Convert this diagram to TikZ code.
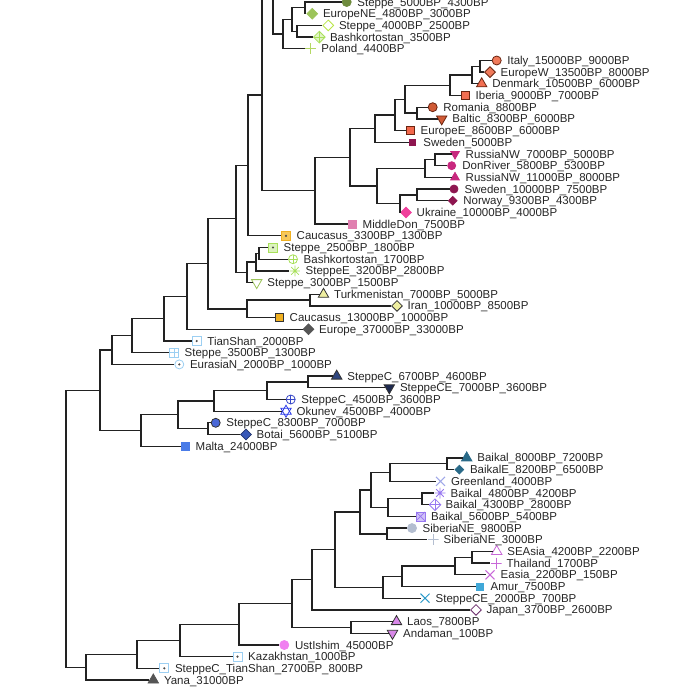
\documentclass[tikz,border=0pt]{standalone}
\usepackage{fontspec}
\setmainfont{Liberation Sans}
\usetikzlibrary{shapes.geometric,shapes.misc}

\definecolor{branch}{HTML}{222222}
\definecolor{olv}{HTML}{6E8B3D}
\definecolor{ygr}{HTML}{9CC45A}
\definecolor{lgr}{HTML}{A8E05A}
\definecolor{lgrB}{HTML}{B4D864}
\definecolor{coral}{HTML}{F07A5A}
\definecolor{rust}{HTML}{D05A35}
\definecolor{edk}{HTML}{6A2410}
\definecolor{dmag}{HTML}{8E1650}
\definecolor{mag}{HTML}{C8287E}
\definecolor{pinkA}{HTML}{F0409C}
\definecolor{pinkB}{HTML}{E080B0}
\definecolor{gold}{HTML}{F0B020}
\definecolor{lorange}{HTML}{F8C858}
\definecolor{lyel}{HTML}{EEEEA0}
\definecolor{dgray}{HTML}{555555}
\definecolor{lblue}{HTML}{9CCFF2}
\definecolor{navy}{HTML}{2E4680}
\definecolor{navyB}{HTML}{1E2A50}
\definecolor{blueA}{HTML}{3848C8}
\definecolor{blueB}{HTML}{2838E8}
\definecolor{blueC}{HTML}{4A68D8}
\definecolor{blueD}{HTML}{3858B8}
\definecolor{blueE}{HTML}{4A7CE8}
\definecolor{teal}{HTML}{2A6A88}
\definecolor{lav}{HTML}{A0A8E8}
\definecolor{purp}{HTML}{9878F0}
\definecolor{sgray}{HTML}{B4BED0}
\definecolor{orch}{HTML}{C868D8}
\definecolor{sky}{HTML}{40A8D8}
\definecolor{cyanA}{HTML}{2898C8}
\definecolor{dpurp}{HTML}{6A2A6A}
\definecolor{orchB}{HTML}{D888E8}
\definecolor{viol}{HTML}{F080F0}

\tikzset{
  mk/.style={inner sep=0pt, line width=.8pt},
  fcirc/.style 2 args={mk, circle, minimum size=9pt, fill=#1, draw=#2},
  fdia/.style 2 args={mk, diamond, minimum size=11pt, fill=#1, draw=#2},
  odia/.style={mk, diamond, minimum size=11pt, fill=white, draw=#1},
  ftri/.style 2 args={mk, regular polygon, regular polygon sides=3, minimum size=12pt, fill=#1, draw=#2},
  ftrd/.style 2 args={ftri={#1}{#2}, shape border rotate=180},
  otri/.style={mk, regular polygon, regular polygon sides=3, minimum size=12pt, draw=#1},
  otrd/.style={otri=#1, shape border rotate=180},
  fsq/.style 2 args={mk, rectangle, minimum size=8pt, fill=#1, draw=#2},
  pluspic/.style={path picture={\draw[#1, line width=.9pt]
      (path picture bounding box.north) -- (path picture bounding box.south)
      (path picture bounding box.west) -- (path picture bounding box.east);}},
  xpic/.style={path picture={\draw[#1, line width=.8pt]
      (path picture bounding box.north west) -- (path picture bounding box.south east)
      (path picture bounding box.north east) -- (path picture bounding box.south west);}},
  astpic/.style={path picture={\draw[#1, line width=.8pt]
      (path picture bounding box.north) -- (path picture bounding box.south)
      (path picture bounding box.west) -- (path picture bounding box.east)
      (path picture bounding box.north west) -- (path picture bounding box.south east)
      (path picture bounding box.north east) -- (path picture bounding box.south west);}},
  dotpic/.style={path picture={\fill[#1] (path picture bounding box.center) circle (1.2pt);}},
  plusmk/.style={mk, rectangle, minimum size=11pt, pluspic=#1},
  xmk/.style={mk, cross out, minimum size=8pt, draw=#1, line width=1pt},
  ast/.style={mk, circle, minimum size=11pt, astpic=#1},
  cplus/.style={mk, circle, minimum size=9pt, draw=#1, fill=white, pluspic=#1},
  cdot/.style={mk, circle, minimum size=9pt, draw=#1, fill=white, dotpic=black!70},
  sqdot/.style 2 args={mk, rectangle, minimum size=9pt, draw=#1, fill=#2, dotpic=black!70},
  sqplus/.style={mk, rectangle, minimum size=9pt, draw=#1, fill=white, pluspic=#1},
  sqx/.style={mk, rectangle, minimum size=9pt, draw=#1, fill=#1!45, xpic=#1},
  dplus/.style 2 args={mk, diamond, minimum size=12pt, draw=#1, fill=#2, pluspic=#1},
  lab/.style={inner sep=0pt, anchor=base west, font=\fontsize{11.5}{13}\selectfont, text=black!85}
}

\begin{document}
\begin{tikzpicture}[x=1pt,y=-1pt]
  \useasboundingbox (0,0) rectangle (685,689);
  \clip (0,0) rectangle (685,689);

  % tips
  \node[fcirc={olv}{olv}]        (m1)  at (346.7,2.0)   {};
  \node[fdia={ygr}{ygr}]         (m2)  at (312.3,13.7)  {};
  \node[odia=lgr!80!yellow]      (m3)  at (328.3,25.4)  {};
  \node[dplus={lgr}{lgr!35}]     (m4)  at (319.3,37.1)  {};
  \node[plusmk=lgrB]             (m5)  at (310.7,48.8)  {};
  \node[fcirc={coral}{edk}]      (m6)  at (496.7,60.5)  {};
  \node[fdia={coral}{edk}]       (m7)  at (490.0,72.1)  {};
  \node[ftri={coral!90!red}{edk}] (m8) at (481.7,83.8)  {};
  \node[fsq={coral!90!red}{edk}] (m9)  at (465.0,95.5)  {};
  \node[fcirc={rust}{edk}]       (m10) at (432.7,107.2) {};
  \node[ftrd={rust}{edk}]        (m11) at (441.7,118.9) {};
  \node[fsq={coral!85!red}{edk}] (m12) at (410.0,130.6) {};
  \node[fsq={dmag}{dmag}, minimum size=6pt] (m13) at (412.7,142.3) {};
  \node[ftrd={mag}{mag}, minimum size=10pt] (m14) at (455.0,154.0) {};
  \node[fcirc={mag}{mag}, minimum size=8pt] (m15) at (451.7,165.7) {};
  \node[ftri={mag}{mag}, minimum size=10pt] (m16) at (455.0,177.4) {};
  \node[fcirc={dmag}{dmag}, minimum size=8pt] (m17) at (454.0,189.0) {};
  \node[fdia={dmag}{dmag}, minimum size=9pt] (m18) at (452.7,200.7) {};
  \node[fdia={pinkA}{pinkA}]     (m19) at (406.0,212.4) {};
  \node[fsq={pinkB}{pinkB}]      (m20) at (352.0,224.1) {};
  \node[sqdot={gold}{lorange}]   (m21) at (286.0,235.8) {};
  \node[sqdot={lgr}{lgr!40}]     (m22) at (273.0,247.5) {};
  \node[cplus=lgr]               (m23) at (293.0,259.2) {};
  \node[ast=lgr]                 (m24) at (295.0,270.9) {};
  \node[otrd=ygr]                (m25) at (256.7,282.6) {};
  \node[ftri={lyel}{black!80}]   (m26) at (323.5,294.3) {};
  \node[fdia={lyel}{black!80}]   (m27) at (397.0,305.9) {};
  \node[fsq={gold}{black!80}]    (m28) at (279.0,317.6) {};
  \node[fdia={dgray}{dgray}]     (m29) at (308.5,329.3) {};
  \node[sqdot={lblue}{white}]    (m30) at (196.7,341.0) {};
  \node[sqplus=lblue]            (m31) at (174.0,352.7) {};
  \node[cdot=lblue]              (m32) at (179.3,364.4) {};
  \node[ftri={navy}{black!80}]   (m33) at (336.7,376.1) {};
  \node[ftrd={navyB}{black!80}]  (m34) at (389.3,387.8) {};
  \node[cplus=blueA]             (m35) at (290.7,399.5) {};
  \node[otri=blueB]              (m36) at (286.0,411.2) {};
  \node[otrd=blueB]              (m36b) at (m36)        {};
  \node[fcirc={blueC}{black!80}] (m37) at (215.7,422.8) {};
  \node[fdia={blueD}{blueD!60!black}] (m38) at (246.0,434.5) {};
  \node[fsq={blueE}{blueE}]      (m39) at (185.0,446.2) {};
  \node[ftri={teal}{teal}]       (m40) at (466.7,457.9) {};
  \node[fdia={teal}{teal}, minimum size=9pt] (m41) at (459.3,469.6) {};
  \node[xmk=lav]                 (m42) at (440.5,481.3) {};
  \node[ast=purp]                (m43) at (440.0,493.0) {};
  \node[dplus={purp}{white}]     (m44) at (435.0,504.7) {};
  \node[sqx=purp]                (m45) at (420.5,516.4) {};
  \node[fcirc={sgray}{sgray}]    (m46) at (412.0,528.1) {};
  \node[plusmk=sgray]            (m47) at (433.0,539.7) {};
  \node[otri=orch]               (m48) at (496.7,551.4) {};
  \node[plusmk=orch]             (m49) at (496.0,563.1) {};
  \node[xmk=orch]                (m50) at (490.0,574.8) {};
  \node[fsq={sky}{sky}, minimum size=7pt] (m51) at (480.0,586.5) {};
  \node[xmk=cyanA]               (m52) at (425.0,598.2) {};
  \node[odia=dpurp]              (m53) at (476.0,609.9) {};
  \node[ftri={orchB}{black!80}]  (m54) at (396.5,621.6) {};
  \node[ftrd={orchB}{black!80}]  (m55) at (392.5,633.3) {};
  \node[fcirc={viol}{viol}]      (m56) at (284.3,645.0) {};
  \node[sqdot={lblue}{white}]    (m57) at (237.5,656.6) {};
  \node[sqdot={lblue}{white}]    (m58) at (164.3,668.3) {};
  \node[ftri={dgray}{dgray}]     (m59) at (153.3,680.0) {};

  % labels
  \begin{scope}[every node/.style={lab}]
    \node (l1)  at ([xshift=10.5pt,yshift=-4pt]m1)  {Steppe\_5000BP\_4300BP};
    \node (l2)  at ([xshift=10.5pt,yshift=-4pt]m2)  {EuropeNE\_4800BP\_3000BP};
    \node (l3)  at ([xshift=10.5pt,yshift=-4pt]m3)  {Steppe\_4000BP\_2500BP};
    \node (l4)  at ([xshift=10.5pt,yshift=-4pt]m4)  {Bashkortostan\_3500BP};
    \node (l5)  at ([xshift=10.5pt,yshift=-4pt]m5)  {Poland\_4400BP};
    \node (l6)  at ([xshift=10.5pt,yshift=-4pt]m6)  {Italy\_15000BP\_9000BP};
    \node (l7)  at ([xshift=10.5pt,yshift=-4pt]m7)  {EuropeW\_13500BP\_8000BP};
    \node (l8)  at ([xshift=10.5pt,yshift=-4pt]m8)  {Denmark\_10500BP\_6000BP};
    \node (l9)  at ([xshift=10.5pt,yshift=-4pt]m9)  {Iberia\_9000BP\_7000BP};
    \node (l10) at ([xshift=10.5pt,yshift=-4pt]m10) {Romania\_8800BP};
    \node (l11) at ([xshift=10.5pt,yshift=-4pt]m11) {Baltic\_8300BP\_6000BP};
    \node (l12) at ([xshift=10.5pt,yshift=-4pt]m12) {EuropeE\_8600BP\_6000BP};
    \node (l13) at ([xshift=10.5pt,yshift=-4pt]m13) {Sweden\_5000BP};
    \node (l14) at ([xshift=10.5pt,yshift=-4pt]m14) {RussiaNW\_7000BP\_5000BP};
    \node (l15) at ([xshift=10.5pt,yshift=-4pt]m15) {DonRiver\_5800BP\_5300BP};
    \node (l16) at ([xshift=10.5pt,yshift=-4pt]m16) {RussiaNW\_11000BP\_8000BP};
    \node (l17) at ([xshift=10.5pt,yshift=-4pt]m17) {Sweden\_10000BP\_7500BP};
    \node (l18) at ([xshift=10.5pt,yshift=-4pt]m18) {Norway\_9300BP\_4300BP};
    \node (l19) at ([xshift=10.5pt,yshift=-4pt]m19) {Ukraine\_10000BP\_4000BP};
    \node (l20) at ([xshift=10.5pt,yshift=-4pt]m20) {MiddleDon\_7500BP};
    \node (l21) at ([xshift=10.5pt,yshift=-4pt]m21) {Caucasus\_3300BP\_1300BP};
    \node (l22) at ([xshift=10.5pt,yshift=-4pt]m22) {Steppe\_2500BP\_1800BP};
    \node (l23) at ([xshift=10.5pt,yshift=-4pt]m23) {Bashkortostan\_1700BP};
    \node (l24) at ([xshift=10.5pt,yshift=-4pt]m24) {SteppeE\_3200BP\_2800BP};
    \node (l25) at ([xshift=10.5pt,yshift=-4pt]m25) {Steppe\_3000BP\_1500BP};
    \node (l26) at ([xshift=10.5pt,yshift=-4pt]m26) {Turkmenistan\_7000BP\_5000BP};
    \node (l27) at ([xshift=10.5pt,yshift=-4pt]m27) {Iran\_10000BP\_8500BP};
    \node (l28) at ([xshift=10.5pt,yshift=-4pt]m28) {Caucasus\_13000BP\_10000BP};
    \node (l29) at ([xshift=10.5pt,yshift=-4pt]m29) {Europe\_37000BP\_33000BP};
    \node (l30) at ([xshift=10.5pt,yshift=-4pt]m30) {TianShan\_2000BP};
    \node (l31) at ([xshift=10.5pt,yshift=-4pt]m31) {Steppe\_3500BP\_1300BP};
    \node (l32) at ([xshift=10.5pt,yshift=-4pt]m32) {EurasiaN\_2000BP\_1000BP};
    \node (l33) at ([xshift=10.5pt,yshift=-4pt]m33) {SteppeC\_6700BP\_4600BP};
    \node (l34) at ([xshift=10.5pt,yshift=-4pt]m34) {SteppeCE\_7000BP\_3600BP};
    \node (l35) at ([xshift=10.5pt,yshift=-4pt]m35) {SteppeC\_4500BP\_3600BP};
    \node (l36) at ([xshift=10.5pt,yshift=-4pt]m36) {Okunev\_4500BP\_4000BP};
    \node (l37) at ([xshift=10.5pt,yshift=-4pt]m37) {SteppeC\_8300BP\_7000BP};
    \node (l38) at ([xshift=10.5pt,yshift=-4pt]m38) {Botai\_5600BP\_5100BP};
    \node (l39) at ([xshift=10.5pt,yshift=-4pt]m39) {Malta\_24000BP};
    \node (l40) at ([xshift=10.5pt,yshift=-4pt]m40) {Baikal\_8000BP\_7200BP};
    \node (l41) at ([xshift=10.5pt,yshift=-4pt]m41) {BaikalE\_8200BP\_6500BP};
    \node (l42) at ([xshift=10.5pt,yshift=-4pt]m42) {Greenland\_4000BP};
    \node (l43) at ([xshift=10.5pt,yshift=-4pt]m43) {Baikal\_4800BP\_4200BP};
    \node (l44) at ([xshift=10.5pt,yshift=-4pt]m44) {Baikal\_4300BP\_2800BP};
    \node (l45) at ([xshift=10.5pt,yshift=-4pt]m45) {Baikal\_5600BP\_5400BP};
    \node (l46) at ([xshift=10.5pt,yshift=-4pt]m46) {SiberiaNE\_9800BP};
    \node (l47) at ([xshift=10.5pt,yshift=-4pt]m47) {SiberiaNE\_3000BP};
    \node (l48) at ([xshift=10.5pt,yshift=-4pt]m48) {SEAsia\_4200BP\_2200BP};
    \node (l49) at ([xshift=10.5pt,yshift=-4pt]m49) {Thailand\_1700BP};
    \node (l50) at ([xshift=10.5pt,yshift=-4pt]m50) {Easia\_2200BP\_150BP};
    \node (l51) at ([xshift=10.5pt,yshift=-4pt]m51) {Amur\_7500BP};
    \node (l52) at ([xshift=10.5pt,yshift=-4pt]m52) {SteppeCE\_2000BP\_700BP};
    \node (l53) at ([xshift=10.5pt,yshift=-4pt]m53) {Japan\_3700BP\_2600BP};
    \node (l54) at ([xshift=10.5pt,yshift=-4pt]m54) {Laos\_7800BP};
    \node (l55) at ([xshift=10.5pt,yshift=-4pt]m55) {Andaman\_100BP};
    \node (l56) at ([xshift=10.5pt,yshift=-4pt]m56) {UstIshim\_45000BP};
    \node (l57) at ([xshift=10.5pt,yshift=-4pt]m57) {Kazakhstan\_1000BP};
    \node (l58) at ([xshift=10.5pt,yshift=-4pt]m58) {SteppeC\_TianShan\_2700BP\_800BP};
    \node (l59) at ([xshift=10.5pt,yshift=-4pt]m59) {Yana\_31000BP};
  \end{scope}

  % inner nodes
  \coordinate (cut) at (300,-36);
  \coordinate (a1)  at (305,7.8);
  \coordinate (a2)  at (297,31.2);
  \coordinate (a3)  at (292,19.5);
  \coordinate (a4)  at (283,34.1);
  \coordinate (a5)  at (273,-1);
  \coordinate (e1)  at (480,66.3);
  \coordinate (e2)  at (472,75.1);
  \coordinate (e3)  at (450,85.3);
  \coordinate (e4)  at (417,113.1);
  \coordinate (e5)  at (405,99.2);
  \coordinate (e6)  at (395,114.9);
  \coordinate (e7)  at (375,128.6);
  \coordinate (r1)  at (435,159.8);
  \coordinate (r2)  at (425,168.6);
  \coordinate (r3)  at (417,194.9);
  \coordinate (r4)  at (400,203.7);
  \coordinate (r5)  at (377,186.1);
  \coordinate (e8)  at (350,157.3);
  \coordinate (e9)  at (315,190.7);
  \coordinate (a6)  at (262,94.9);
  \coordinate (a7)  at (248,165.3);
  \coordinate (s0)  at (259,253.3);
  \coordinate (s1)  at (256,262.1);
  \coordinate (s2)  at (247,272.3);
  \coordinate (a8)  at (236,218.8);
  \coordinate (c1)  at (310,300.1);
  \coordinate (c2)  at (247,308.9);
  \coordinate (a9)  at (208,263.8);
  \coordinate (a10) at (187,296.6);
  \coordinate (a11) at (164,318.8);
  \coordinate (a12) at (132,335.8);
  \coordinate (a13) at (112,350.1);
  \coordinate (b1)  at (308,381.9);
  \coordinate (b2)  at (267,390.7);
  \coordinate (b3)  at (214,400.9);
  \coordinate (b4)  at (208,428.7);
  \coordinate (b5)  at (178,414.8);
  \coordinate (b6)  at (141,430.5);
  \coordinate (a14) at (100,390.3);
  \coordinate (k13) at (447,463.8);
  \coordinate (k11) at (390,472.5);
  \coordinate (k14) at (422,498.8);
  \coordinate (k12) at (388,507.6);
  \coordinate (k10) at (371,490.1);
  \coordinate (ks)  at (387,533.9);
  \coordinate (k8)  at (360,512.0);
  \coordinate (k17) at (472,557.3);
  \coordinate (k16) at (455,566.1);
  \coordinate (k15) at (402,576.3);
  \coordinate (k9)  at (383,587.2);
  \coordinate (k7)  at (335,549.6);
  \coordinate (k6)  at (312,579.7);
  \coordinate (kl)  at (351,627.4);
  \coordinate (k5)  at (292,603.6);
  \coordinate (k4)  at (239,624.3);
  \coordinate (k3)  at (180,640.5);
  \coordinate (k2)  at (137,654.4);
  \coordinate (k1)  at (86,667.2);
  \coordinate (root) at (66,528.8);

  % branches
  \begin{scope}[draw=branch, line width=1.3pt]
    \draw (a1) |- (m1) (a1) |- (m2);
    \draw (a2) |- (m3) (a2) |- (m4);
    \draw (a3) |- (a1) (a3) |- (a2);
    \draw (a4) |- (a3) (a4) |- (m5);
    \draw (a5) |- (cut) (a5) |- (a4);
    \draw (e1) |- (m6) (e1) |- (m7);
    \draw (e2) |- (e1) (e2) |- (m8);
    \draw (e3) |- (e2) (e3) |- (m9);
    \draw (e4) |- (m10) (e4) |- (m11);
    \draw (e5) |- (e3) (e5) |- (e4);
    \draw (e6) |- (e5) (e6) |- (m12);
    \draw (e7) |- (e6) (e7) |- (m13);
    \draw (r1) |- (m14) (r1) |- (m15);
    \draw (r2) |- (r1) (r2) |- (m16);
    \draw (r3) |- (m17) (r3) |- (m18);
    \draw (r4) |- (r3) (r4) |- (m19);
    \draw (r5) |- (r2) (r5) |- (r4);
    \draw (e8) |- (e7) (e8) |- (r5);
    \draw (e9) |- (e8) (e9) |- (m20);
    \draw (a6) |- (a5) (a6) |- (e9);
    \draw (a7) |- (a6) (a7) |- (m21);
    \draw (s0) |- (m22) (s0) |- (m23);
    \draw (s1) |- (s0) (s1) |- (m24);
    \draw (s2) |- (s1) (s2) |- (m25);
    \draw (a8) |- (a7) (a8) |- (s2);
    \draw (c1) |- (m26) (c1) |- (m27);
    \draw (c2) |- (c1) (c2) |- (m28);
    \draw (a9) |- (a8) (a9) |- (c2);
    \draw (a10) |- (a9) (a10) |- (m29);
    \draw (a11) |- (a10) (a11) |- (m30);
    \draw (a12) |- (a11) (a12) |- (m31);
    \draw (a13) |- (a12) (a13) |- (m32);
    \draw (b1) |- (m33) (b1) |- (m34);
    \draw (b2) |- (b1) (b2) |- (m35);
    \draw (b3) |- (b2) (b3) |- (m36);
    \draw (b4) |- (m37) (b4) |- (m38);
    \draw (b5) |- (b3) (b5) |- (b4);
    \draw (b6) |- (b5) (b6) |- (m39);
    \draw (a14) |- (a13) (a14) |- (b6);
    \draw (k13) |- (m40) (k13) |- (m41);
    \draw (k11) |- (k13) (k11) |- (m42);
    \draw (k14) |- (m43) (k14) |- (m44);
    \draw (k12) |- (k14) (k12) |- (m45);
    \draw (k10) |- (k11) (k10) |- (k12);
    \draw (ks) |- (m46) (ks) |- (m47);
    \draw (k8) |- (k10) (k8) |- (ks);
    \draw (k17) |- (m48) (k17) |- (m49);
    \draw (k16) |- (k17) (k16) |- (m50);
    \draw (k15) |- (k16) (k15) |- (m51);
    \draw (k9) |- (k15) (k9) |- (m52);
    \draw (k7) |- (k8) (k7) |- (k9);
    \draw (k6) |- (k7) (k6) |- (m53);
    \draw (kl) |- (m54) (kl) |- (m55);
    \draw (k5) |- (k6) (k5) |- (kl);
    \draw (k4) |- (k5) (k4) |- (m56);
    \draw (k3) |- (k4) (k3) |- (m57);
    \draw (k2) |- (k3) (k2) |- (m58);
    \draw (k1) |- (k2) (k1) |- (m59);
    \draw (root) |- (a14) (root) |- (k1);
  \end{scope}

\end{tikzpicture}
\end{document}
